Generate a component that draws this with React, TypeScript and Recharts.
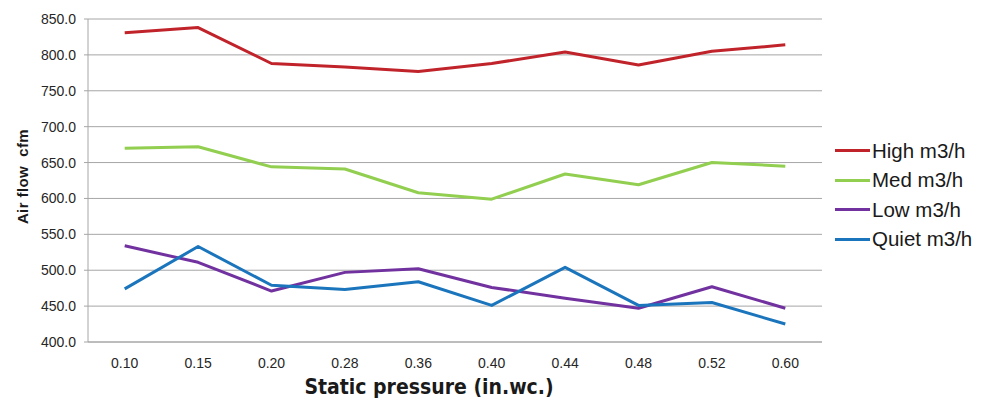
import React from 'react';
import { LineChart, Line, XAxis, YAxis, CartesianGrid, Legend, Label } from 'recharts';

const categories = ['0.10', '0.15', '0.20', '0.28', '0.36', '0.40', '0.44', '0.48', '0.52', '0.60'];
const highValues = [831, 838, 788, 783, 777, 788, 804, 786, 805, 814];
const medValues = [670, 672, 644, 641, 608, 599, 634, 619, 650, 645];
const lowValues = [534, 511, 471, 497, 502, 476, 461, 447, 477, 447];
const quietValues = [474, 533, 479, 473, 484, 451, 504, 451, 455, 425];
const yTicks = [400, 450, 500, 550, 600, 650, 700, 750, 800, 850];

const seriesNames = ['High m3/h', 'Med m3/h', 'Low m3/h', 'Quiet m3/h'];
const seriesColors = ['#C1232B', '#92CF50', '#7132A0', '#1B75BC'];

const data = categories.map((c, i) => ({
  p: c,
  high: highValues[i],
  med: medValues[i],
  low: lowValues[i],
  quiet: quietValues[i],
}));

const FONT = "'Liberation Sans', Arial, sans-serif";

const LegendContent = () => {
  return (
    <div style={{ fontFamily: FONT, fontSize: 20.5, color: '#1a1a1a' }}>
      {seriesNames.map((name, i) => (
        <div key={name} style={{ display: 'flex', alignItems: 'center', height: 29.5 }}>
          <div style={{ width: 35, height: 3, background: seriesColors[i], marginRight: 2 }} />
          <span>{name}</span>
        </div>
      ))}
    </div>
  );
};

export default function App() {
  return (
    <LineChart
      width={985}
      height={397}
      data={data}
      margin={{ top: 11, right: 21, left: 0, bottom: 0 }}
    >
      <CartesianGrid vertical={false} stroke="#A6A6A6" strokeWidth={1} />
      <XAxis
        dataKey="p"
        scale="band"
        height={63}
        axisLine={{ stroke: '#A6A6A6' }}
        tickLine={false}
        tickSize={0}
        tickMargin={16}
        tick={{ fontFamily: FONT, fontSize: 14, fill: '#262626' }}
      >
        <Label
          value="Static pressure (in.wc.)"
          position="insideBottom"
          offset={11}
          dx={-26}
          style={{ fontFamily: "'Liberation Sans Narrow', 'DejaVu Sans Condensed', sans-serif", fontSize: 21, fontWeight: 'bold', fill: '#1a1a1a' }}
        />
      </XAxis>
      <YAxis
        domain={[400, 850]}
        ticks={yTicks}
        width={80}
        interval={0}
        axisLine={{ stroke: '#A6A6A6' }}
        tickLine={{ stroke: '#A6A6A6' }}
        tickSize={4}
        tickMargin={8}
        tickFormatter={(v: number) => v.toFixed(1)}
        tick={{ fontFamily: FONT, fontSize: 14, fill: '#262626' }}
      >
        <Label
          value={'Air flow\u00A0 cfm'}
          angle={-90}
          position="center"
          dx={-25}
          dy={-4}
          style={{ fontFamily: FONT, fontSize: 15, fontWeight: 'bold', fill: '#1a1a1a', letterSpacing: 0.4 }}
        />
      </YAxis>
      <Legend
        layout="vertical"
        align="right"
        verticalAlign="top"
        content={<LegendContent />}
        wrapperStyle={{ left: 827, top: 128, width: 150 }}
      />
      <Line dataKey="high" name={seriesNames[0]} stroke={seriesColors[0]} strokeWidth={3} dot={false} isAnimationActive={false} strokeLinejoin="round" />
      <Line dataKey="med" name={seriesNames[1]} stroke={seriesColors[1]} strokeWidth={3} dot={false} isAnimationActive={false} strokeLinejoin="round" />
      <Line dataKey="low" name={seriesNames[2]} stroke={seriesColors[2]} strokeWidth={3} dot={false} isAnimationActive={false} strokeLinejoin="round" />
      <Line dataKey="quiet" name={seriesNames[3]} stroke={seriesColors[3]} strokeWidth={3} dot={false} isAnimationActive={false} strokeLinejoin="round" />
    </LineChart>
  );
}
